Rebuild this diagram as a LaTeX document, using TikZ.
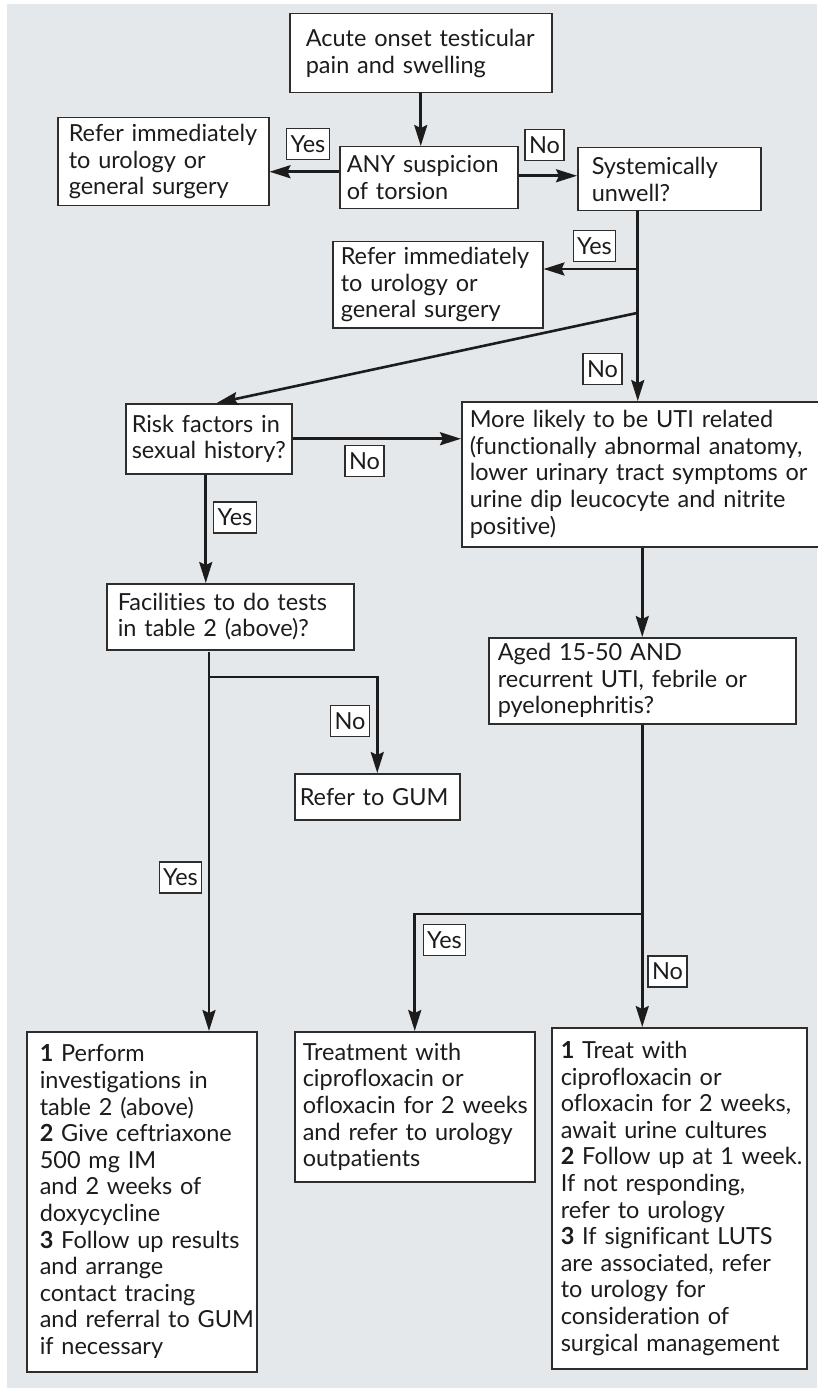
\documentclass[tikz,border=0pt]{standalone}
\usepackage{fontspec}
\setmainfont{Lato}[Ligatures=NoCommon]
\usetikzlibrary{arrows.meta,calc}
\definecolor{bg}{RGB}{229,232,235}
\definecolor{edge}{RGB}{45,45,45}
\definecolor{ink}{RGB}{28,28,28}
\newcommand\LL[1]{\mbox{#1}}
\begin{document}
\begin{tikzpicture}[x=1pt,y=-1pt,
  txt/.style={font=\fontsize{23.5pt}{26.6pt}\selectfont, text=ink},
  box/.style={txt, draw=edge, fill=white, line width=1.5pt, anchor=north west, align=left, inner ysep=0pt},
  lab/.style={txt, draw=edge, fill=white, line width=1.2pt, inner xsep=4pt, inner ysep=0pt, minimum height=31pt},
  conn/.style={draw=ink, line width=2.6pt},
  arr/.style={conn, -{Stealth[length=21pt,width=13pt,inset=3pt]}}]
\useasboundingbox (0,0) rectangle (817,1388);
\fill[bg] (7,4) rectangle (817,1388);

% boxes
\node[box, text width=230pt, inner xsep=16pt, minimum height=79pt] (acute) at (289,13) {\LL{Acute onset testicular}\\\LL{pain and swelling}};
\node[box, text width=189pt, inner xsep=11pt, minimum height=88pt] (refer1) at (57,117) {\LL{Refer immediately}\\\LL{to urology or}\\\LL{general surgery}};
\node[box, text width=164pt, inner xsep=7pt, minimum height=62pt] (any) at (339,146) {\LL{ANY suspicion}\\\LL{of torsion}};
\node[box, text width=155pt, inner xsep=14pt, minimum height=63pt] (sys) at (577,147) {\LL{Systemically}\\\LL{unwell?}};
\node[box, text width=194pt, inner xsep=8pt, minimum height=86pt] (refer2) at (332,241) {\LL{Refer immediately}\\\LL{to urology or}\\\LL{general surgery}};
\node[box, text width=154pt, inner xsep=6pt, minimum height=70pt] (risk) at (125,403) {\LL{Risk factors in}\\\LL{sexual history?}};
\node[box, text width=354pt, inner xsep=8pt, minimum height=145pt] (uti) at (461,401) {\LL{More likely to be UTI related}\\\LL{(functionally abnormal anatomy,}\\\LL{lower urinary tract symptoms or}\\\LL{urine dip leucocyte and nitrite}\\\LL{positive)}};
\node[box, text width=225pt, inner xsep=11pt, minimum height=66pt] (facil) at (106,583) {\LL{Facilities to do tests}\\\LL{in table 2 (above)?}};
\node[box, text width=289pt, inner xsep=9pt, minimum height=86pt] (aged) at (488,637) {\LL{Aged 15-50 AND}\\\LL{recurrent UTI, febrile or}\\\LL{pyelonephritis?}};
\node[box, text width=155pt, inner xsep=5pt, minimum height=46pt] (gum) at (294,773) {\LL{Refer to GUM}};
\node[box, text width=204pt, inner xsep=13pt, minimum height=340pt] (b1) at (26,1031) {\LL{\textbf{1} Perform}\\\LL{investigations in}\\\LL{table 2 (above)}\\\LL{\textbf{2} Give ceftriaxone}\\\LL{500 mg IM}\\\LL{and 2 weeks of}\\\LL{doxycycline}\\\LL{\textbf{3} Follow up results}\\\LL{and arrange}\\\LL{contact tracing}\\\LL{and referral to GUM}\\\LL{if necessary}};
\node[box, text width=224pt, inner xsep=8pt, minimum height=150pt] (b2) at (294,1031) {\LL{Treatment with}\\\LL{ciprofloxacin or}\\\LL{ofloxacin for 2 weeks}\\\LL{and refer to urology}\\\LL{outpatients}};
\node[box, text width=237pt, inner xsep=9pt, minimum height=341pt] (b3) at (551,1027) {\LL{\textbf{1} Treat with}\\\LL{ciprofloxacin or}\\\LL{ofloxacin for 2 weeks,}\\\LL{await urine cultures}\\\LL{\textbf{2} Follow up at 1 week.}\\\LL{If not responding,}\\\LL{refer to urology}\\\LL{\textbf{3} If significant LUTS}\\\LL{are associated, refer}\\\LL{to urology for}\\\LL{consideration of}\\\LL{surgical management}};

% junction coordinates
\coordinate (s1) at ([xshift=-31.5pt]sys.south);
\coordinate (j1) at (637,269);
\coordinate (j2) at (637,313);
\coordinate (f0) at (209,652);
\coordinate (f1) at (209,677);
\coordinate (a1) at (641.5,914);

% connectors
\draw[arr] (acute.south) -- (acute.south |- any.north);
\draw[arr] ([yshift=6pt]any.west) -- ([yshift=6pt]any.west -| refer1.east);
\draw[arr] ([yshift=2pt]any.east) -- ([yshift=2pt]any.east -| sys.west);
\draw[arr] (s1) -- (s1 |- uti.north);
\draw[arr] (j1) -- (j1 -| refer2.east);
\draw[arr] (j2) -- ([xshift=8pt]risk.north);
\draw[arr] (risk.east) -- (risk.east -| uti.west);
\draw[arr] ([xshift=-3pt]risk.south) -- ([xshift=-3pt]risk.south |- facil.north);
\draw[arr] (f0) -- (f0 |- b1.north);
\draw[arr] (f1) -| (gum.north);
\draw[arr] (aged.north |- uti.south) -- (aged.north);
\draw[arr] (aged.south) -- (aged.south |- b3.north);
\draw[arr] (a1) -| (b2.north);

% labels
\node[lab] (yes1) at (308,144) {Yes};
\node[lab] (no1) at (544.5,145) {No};
\node[lab] (yes2) at (594.5,246) {Yes};
\node[lab] (no2) at (602.5,369) {No};
\node[lab] (no3) at (364.5,461) {No};
\node[lab] (yes3) at (235,517.5) {Yes};
\node[lab] (no4) at (350,721) {No};
\node[lab] (yes4) at (180.5,877.5) {Yes};
\node[lab] (yes5) at (444.5,940) {Yes};
\node[lab] (no5) at (667.5,971.5) {No};
\end{tikzpicture}
\end{document}
